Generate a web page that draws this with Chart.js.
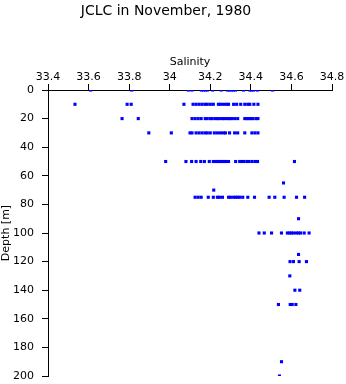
<!DOCTYPE html>
<html>
<head>
<meta charset="utf-8">
<script src="https://cdn.jsdelivr.net/npm/chart.js@4"></script>
<style>
html,body{margin:0;padding:0;background:#fff;}
#wrap{width:346px;height:384px;position:relative;}
</style>
</head>
<body>
<div id="wrap"><canvas id="c" width="346" height="384"></canvas></div>
<script>
const titleText = "JCLC in November, 1980";
const xTitle = "Salinity";
const yTitle = "Depth [m]";
const xTicks = [33.4, 33.6, 33.8, 34, 34.2, 34.4, 34.6, 34.8];
const yTicks = [0, 20, 40, 60, 80, 100, 120, 140, 160, 180, 200];

const depths = [0, 10, 20, 30, 50, 65, 70, 75, 90, 100, 115, 120, 130, 140, 150, 190, 200];
const s0   = [33.61, 33.813, 34.092, 34.11, 34.156, 34.166, 34.176, 34.186, 34.212, 34.254, 34.284, 34.294, 34.304, 34.314, 34.324, 34.364, 34.395, 34.404, 34.414, 34.433, 34.507];
const s10  = [33.533, 33.79, 33.81, 34.07, 34.115, 34.13, 34.145, 34.16, 34.175, 34.185, 34.2, 34.215, 34.24, 34.25, 34.265, 34.28, 34.29, 34.315, 34.33, 34.35, 34.37, 34.385, 34.395, 34.415, 34.435];
const s20  = [33.765, 33.845, 34.11, 34.125, 34.14, 34.155, 34.175, 34.185, 34.2, 34.21, 34.225, 34.235, 34.245, 34.26, 34.27, 34.285, 34.295, 34.305, 34.32, 34.335, 34.37, 34.38, 34.39, 34.4, 34.41, 34.425, 34.435];
const s30  = [33.897, 34.008, 34.1, 34.11, 34.13, 34.145, 34.16, 34.175, 34.185, 34.2, 34.22, 34.235, 34.25, 34.265, 34.275, 34.295, 34.32, 34.335, 34.37, 34.405, 34.42, 34.435];
const s50  = [33.98, 34.08, 34.108, 34.13, 34.153, 34.171, 34.195, 34.215, 34.225, 34.235, 34.245, 34.255, 34.265, 34.275, 34.29, 34.325, 34.345, 34.355, 34.365, 34.38, 34.39, 34.405, 34.42, 34.433, 34.615];
const s65  = [34.561];
const s70  = [34.217];
const s75  = [34.125, 34.14, 34.155, 34.19, 34.215, 34.235, 34.245, 34.26, 34.29, 34.3, 34.315, 34.325, 34.335, 34.345, 34.36, 34.385, 34.418, 34.49, 34.518, 34.564, 34.625, 34.665];
const s90  = [34.635];
const s100 = [34.44, 34.466, 34.502, 34.551, 34.58, 34.59, 34.6, 34.61, 34.625, 34.635, 34.645, 34.663, 34.687];
const s115 = [34.635];
const s120 = [34.593, 34.61, 34.638, 34.674];
const s130 = [34.592];
const s140 = [34.617, 34.641];
const s150 = [34.536, 34.594, 34.604, 34.622];
const s190 = [34.551];
const s200 = [34.541];
const salinityRows = [s0, s10, s20, s30, s50, s65, s70, s75, s90, s100, s115, s120, s130, s140, s150, s190, s200];

const points = [];
depths.forEach((d, i) => salinityRows[i].forEach(s => points.push({x: s, y: d})));

const FONT = "'DejaVu Sans', sans-serif";

new Chart(document.getElementById('c'), {
  type: 'scatter',
  data: {
    datasets: [{
      data: points,
      pointStyle: 'rect',
      pointRadius: 2.2,
      pointBorderWidth: 0,
      pointBackgroundColor: '#0000ff',
      pointBorderColor: '#0000ff'
    }]
  },
  options: {
    responsive: false,
    animation: false,
    events: [],
    layout: {padding: {left: 0, right: 14, top: 0, bottom: 8}},
    plugins: {
      legend: {display: false},
      tooltip: {enabled: false},
      title: {
        display: true,
        text: titleText,
        color: '#000',
        font: {family: FONT, size: 14, weight: 'normal', lineHeight: 1.2},
        padding: {top: 3, bottom: 30.2}
      }
    },
    scales: {
      x: {
        type: 'linear',
        position: 'top',
        min: 33.4,
        max: 34.8,
        afterBuildTicks: (s) => { s.ticks = xTicks.map(v => ({value: v})); },
        afterFit: (s) => { s.height = 40; s.paddingLeft = 0; s.paddingRight = 0; s.paddingTop = 0; s.paddingBottom = 0; },
        ticks: {
          color: '#000',
          font: {family: FONT, size: 11},
          padding: 0,
          maxRotation: 0,
          autoSkip: false,
          callback: (v) => String(Math.round(v * 10) / 10)
        },
        grid: {display: true, drawOnChartArea: false, drawTicks: true, tickLength: 6, color: '#000', lineWidth: 1},
        border: {display: true, color: '#000', width: 1},
        title: {display: true, text: xTitle, color: '#000', font: {family: FONT, size: 11, lineHeight: 1.2}, padding: {top: 6, bottom: 0}}
      },
      y: {
        type: 'linear',
        reverse: true,
        min: 0,
        max: 200,
        afterBuildTicks: (s) => { s.ticks = yTicks.map(v => ({value: v})); },
        afterFit: (s) => { s.width = 48; s.paddingLeft = 0; s.paddingRight = 0; s.paddingTop = 0; s.paddingBottom = 0; },
        ticks: {
          color: '#000',
          font: {family: FONT, size: 11},
          padding: 8,
          autoSkip: false,
          callback: (v) => String(v)
        },
        grid: {display: true, drawOnChartArea: false, drawTicks: true, tickLength: 6, color: '#000', lineWidth: 1},
        border: {display: true, color: '#000', width: 1},
        title: {display: true, text: yTitle, color: '#000', font: {family: FONT, size: 11, lineHeight: 1.2}, padding: 0}
      }
    }
  }
});
</script>
</body>
</html>
